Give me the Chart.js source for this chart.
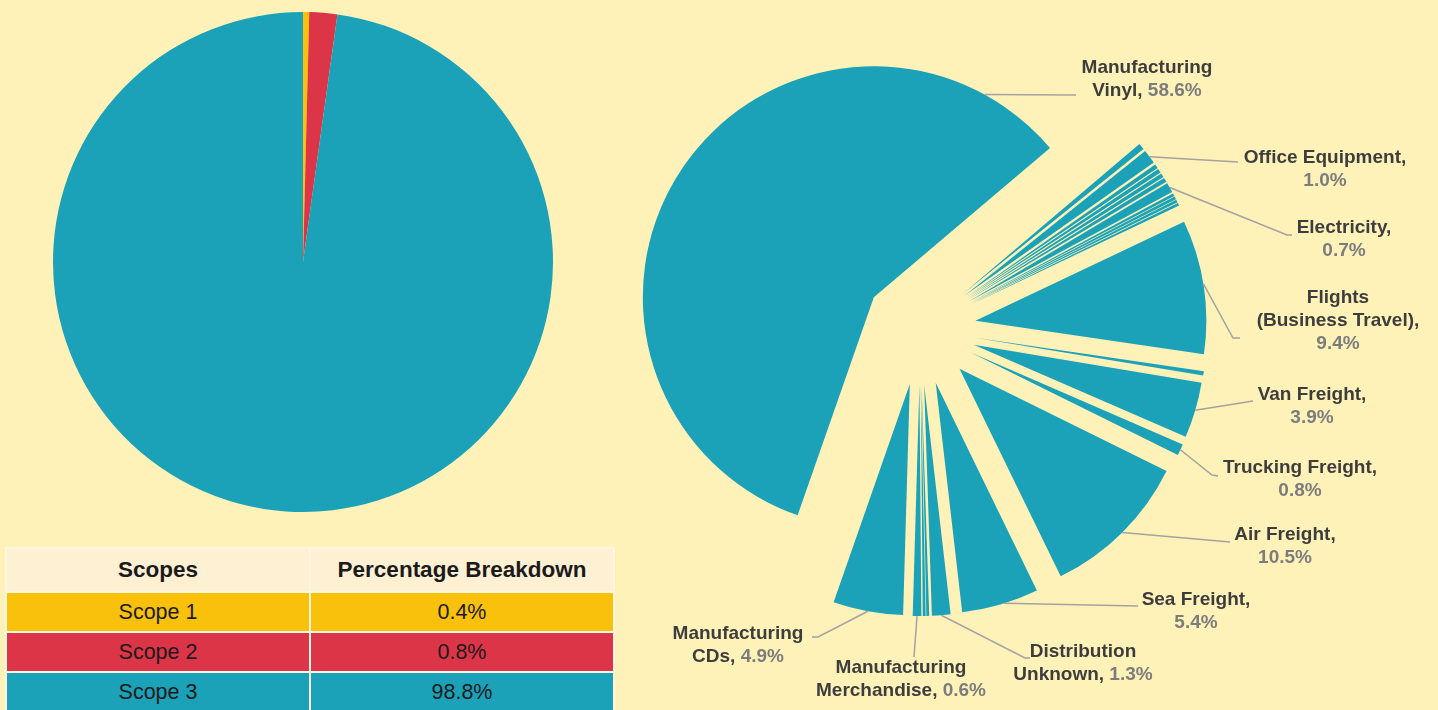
<!DOCTYPE html>
<html>
<head>
<meta charset="utf-8">
<script src="https://cdn.jsdelivr.net/npm/chart.js@4.4.1/dist/chart.umd.min.js"></script>
<style>
  html, body { margin: 0; padding: 0; }
  body {
    width: 1438px; height: 710px; overflow: hidden; position: relative;
    background: #fef2b9;
    font-family: 'Liberation Sans', Arial, sans-serif;
  }
  #scopeWrap { position: absolute; left: 43px; top: 2px; width: 520px; height: 520px; }
  #sourceWrap { position: absolute; left: 620px; top: 0; width: 818px; height: 710px; }
  #scopeTable {
    position: absolute; left: 5px; top: 547px; width: 610px;
    border-collapse: collapse; table-layout: fixed;
  }
  #scopeTable th, #scopeTable td {
    border: 2px solid #fff6df; text-align: center; padding: 0;
    font-size: 21.5px; color: #1b1b1b;
  }
  #scopeTable th { height: 42px; background: #fdf0d3; font-weight: bold; font-size: 22.5px; }
  #scopeTable td { height: 38px; }
</style>
</head>
<body>
<div id="scopeWrap"><canvas id="scopeChart"></canvas></div>
<table id="scopeTable">
  <thead><tr><th>Scopes</th><th>Percentage Breakdown</th></tr></thead>
  <tbody id="scopeRows"></tbody>
</table>
<div id="sourceWrap"><canvas id="sourceChart"></canvas></div>

<script>
// ===== データ =====
// スコープ別（表の数値）
const scopeNames = ['Scope 1', 'Scope 2', 'Scope 3'];
const scopeShare = [0.4, 0.8, 98.8];
// 左の円グラフに実際に描かれている扇の大きさ（絵から読んだ値）
const scopeSlice = [0.4, 1.8, 97.8];
const scopeColors = ['#f9c10b', '#dd3548', '#1ba1b8'];

// 排出源別（時計回り、右上の細い束から）
const sourceNames = [
  'Other', 'Office Equipment', 'Other', 'Other', 'Other', 'Other',
  'Electricity', 'Other', 'Other', 'Other', 'Other',
  'Flights (Business Travel)', 'Other', 'Van Freight', 'Trucking Freight',
  'Air Freight', 'Sea Freight', 'Distribution Unknown', 'Other', 'Other',
  'Manufacturing Merchandise', 'Manufacturing CDs', 'Manufacturing Vinyl'
];
const sourceShare = [
  0.45, 1.0, 0.3, 0.3, 0.3, 0.3,
  0.7, 0.2, 0.2, 0.2, 0.2,
  9.4, 0.3, 3.9, 0.8,
  10.5, 5.4, 1.3, 0.2, 0.2,
  0.6, 4.9, 58.6
];

// ラベル文字列（{p} に割合が入る）
const calloutFor  = ['Manufacturing Vinyl', 'Office Equipment', 'Electricity',
  'Flights (Business Travel)', 'Van Freight', 'Trucking Freight', 'Air Freight',
  'Sea Freight', 'Distribution Unknown', 'Manufacturing Merchandise', 'Manufacturing CDs'];
const calloutText = [
  ['Manufacturing', 'Vinyl, {p}'],
  ['Office Equipment,', '{p}'],
  ['Electricity,', '{p}'],
  ['Flights', '(Business Travel),', '{p}'],
  ['Van Freight,', '{p}'],
  ['Trucking Freight,', '{p}'],
  ['Air Freight,', '{p}'],
  ['Sea Freight,', '{p}'],
  ['Distribution', 'Unknown, {p}'],
  ['Manufacturing', 'Merchandise, {p}'],
  ['Manufacturing', 'CDs, {p}']
];

// ===== レイアウト（ページ座標） =====
const calloutLayout = [
  { t: 0.90, path: [[1076, 95]],               at: [1147, 68] },
  { t: 0.50, path: [[1238, 162]],              at: [1325, 158] },
  { t: 0.50, path: [[1287, 235], [1292, 235]], at: [1344, 228] },
  { t: 0.48, path: [[1233, 338], [1240, 338]], at: [1338, 298] },
  { t: 0.50, path: [[1253, 401]],              at: [1312, 395] },
  { t: 0.50, path: [[1212, 475], [1218, 476]], at: [1300, 468] },
  { t: 0.50, path: [[1230, 542]],              at: [1285, 535] },
  { t: 0.45, path: [[1138, 606]],              at: [1196, 600] },
  { t: 0.50, path: [[1025, 658], [1030, 658]], at: [1083, 652] },
  { t: 0.50, path: [[914, 657]],               at: [901, 668] },
  { t: 0.50, path: [[818, 637], [812, 637]],   at: [738, 634] }
];
const SOURCE_LEFT = 620;
const SLICE_SHIFT = 56;  // 扇を外へずらす距離(px)
const LINE_H = 23;

Chart.defaults.font.family = "'Liberation Sans', Arial, sans-serif";
Chart.defaults.animation = false;

// ===== 表 =====
document.getElementById('scopeRows').innerHTML = scopeNames.map((n, i) => `
  <tr style="background:${scopeColors[i]}">
    <td>${n}</td><td>${scopeShare[i].toFixed(1)}%</td>
  </tr>`).join('');

// ===== 左：スコープ円グラフ =====
new Chart(document.getElementById('scopeChart'), {
  type: 'pie',
  data: {
    labels: scopeNames,
    datasets: [{ data: scopeSlice, backgroundColor: scopeColors, borderWidth: 0 }]
  },
  options: {
    responsive: true, maintainAspectRatio: false,
    radius: 250,
    plugins: { legend: { display: false }, tooltip: { enabled: false } }
  }
});

// ===== 右：排出源（分割円グラフ） =====
// Chart.js の offset は細い扇を削ってしまうので、各扇を自前で平行移動して描く
const explode = {
  id: 'explode',
  beforeDatasetDraw(chart, args) {
    const ctx = chart.ctx;
    args.meta.data.forEach(arc => {
      const mid = (arc.startAngle + arc.endAngle) / 2;
      ctx.save();
      ctx.translate(Math.cos(mid) * SLICE_SHIFT, Math.sin(mid) * SLICE_SHIFT);
      arc.draw(ctx, chart.chartArea);
      ctx.restore();
    });
    return false;
  }
};

const callouts = {
  id: 'callouts',
  afterDatasetsDraw(chart) {
    const ctx = chart.ctx;
    const meta = chart.getDatasetMeta(0);
    ctx.save();
    ctx.font = "bold 19px 'Liberation Sans', Arial, sans-serif";
    ctx.textBaseline = 'middle';
    calloutFor.forEach((name, i) => {
      const idx = sourceNames.indexOf(name);
      const arc = meta.data[idx];
      const lay = calloutLayout[i];
      const R = arc.outerRadius;
      const mid = (arc.startAngle + arc.endAngle) / 2;
      const a = arc.startAngle + lay.t * (arc.endAngle - arc.startAngle);
      const x0 = arc.x + Math.cos(mid) * SLICE_SHIFT + Math.cos(a) * R;
      const y0 = arc.y + Math.sin(mid) * SLICE_SHIFT + Math.sin(a) * R;

      ctx.strokeStyle = '#a3a3a3';
      ctx.lineWidth = 1.5;
      ctx.beginPath();
      ctx.moveTo(x0, y0);
      lay.path.forEach(p => ctx.lineTo(p[0] - SOURCE_LEFT, p[1]));
      ctx.stroke();

      const pct = sourceShare[idx].toFixed(1) + '%';
      calloutText[i].forEach((line, k) => {
        const parts = line.split('{p}');
        const head = parts[0];
        const tail = parts.length > 1 ? pct : '';
        const w = ctx.measureText(head + tail).width;
        let x = lay.at[0] - SOURCE_LEFT - w / 2;
        const y = lay.at[1] + k * LINE_H;
        ctx.textAlign = 'left';
        ctx.fillStyle = '#3d3d3d';
        ctx.fillText(head, x, y);
        x += ctx.measureText(head).width;
        ctx.fillStyle = '#7c7c7c';
        if (tail) ctx.fillText(tail, x, y);
      });
    });
    ctx.restore();
  }
};

new Chart(document.getElementById('sourceChart'), {
  type: 'pie',
  data: {
    labels: sourceNames,
    datasets: [{
      data: sourceShare,
      backgroundColor: '#1ba1b8',
      borderWidth: 0
    }]
  },
  options: {
    responsive: true, maintainAspectRatio: false,
    radius: 231,
    rotation: 49.7,
    layout: { padding: { left: 0, right: 218, top: 0, bottom: 52 } },
    plugins: { legend: { display: false }, tooltip: { enabled: false } }
  },
  plugins: [explode, callouts]
});
</script>
</body>
</html>
